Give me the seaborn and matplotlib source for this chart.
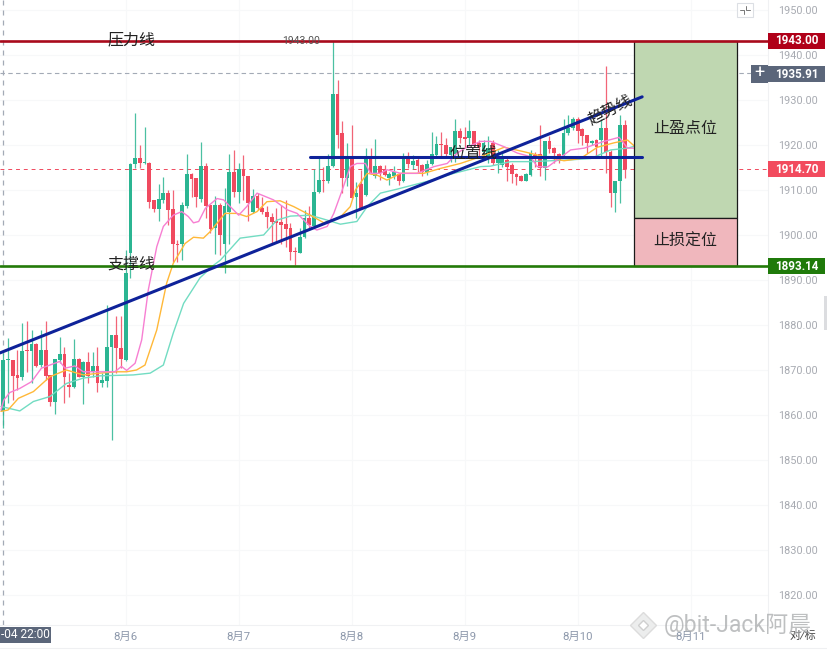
import matplotlib
matplotlib.use("Agg")
import matplotlib.pyplot as plt
from matplotlib.patches import Rectangle
from matplotlib.lines import Line2D
import numpy as np
import pandas as pd
import seaborn as sns

first_hour = -26
directions = ("GGRRGRGRGR" "RGGRRGRGRG" "RGGGRRGGGR" "GRRGGRRRGG" "RRGRRGRGGR"
              "GRRGRRRRRR" "RRRGGRGGRG" "GRRGRGRGRG" "RRGGRGRGRR" "GGGRRGGRRG"
              "RRGGRGGRRR" "RGGRRGRRRG" "GGRRRGRGRR" "GGR")
highs = [1873.7,1877.0,1872.2,1874.5,1880.4,1880.8,1878.9,1875.9,1878.9,1880.8,
         1868.9,1872.4,1877.3,1875.2,1869.3,1876.8,1872.6,1871.9,1873.9,1873.9,
         1875.2,1869.3,1884.5,1877.8,1881.9,1882.0,1896.7,1916.0,1927.0,1920.0,
         1923.9,1916.3,1907.8,1911.3,1912.8,1910.1,1910.1,1898.9,1907.4,1917.9,
         1913.7,1912.6,1920.7,1916.1,1906.7,1908.7,1907.0,1910.4,1918.1,1918.9,
         1916.1,1917.8,1913.1,1910.2,1909.3,1908.5,1906.4,1904.8,1905.9,1906.7,
         1907.8,1902.7,1897.4,1901.5,1905.6,1906.4,1914.6,1917.0,1915.2,1918.1,
         1943.0,1934.4,1925.4,1920.4,1924.4,1911.8,1914.4,1919.3,1919.3,1921.3,
         1915.6,1915.6,1914.1,1915.3,1913.7,1918.2,1918.5,1917.8,1917.4,1915.8,
         1916.7,1922.8,1921.9,1922.8,1921.5,1919.6,1925.7,1923.7,1924.1,1925.6,
         1923.0,1921.1,1921.1,1921.9,1921.1,1918.9,1918.2,1917.4,1915.9,1913.7,
         1913.3,1913.7,1918.9,1918.5,1924.5,1920.8,1921.9,1919.5,1918.2,1925.7,
         1926.7,1926.3,1926.2,1923.7,1922.2,1921.1,1921.3,1925.7,1937.6,1918.9,
         1911.9,1926.7,1925.6]
body_tops = [1872.2,1872.4,1872.2,1868.9,1874.3,1874.5,1875.8,1875.8,1874.5,1874.5,
             1868.8,1872.4,1873.6,1873.6,1866.6,1872.4,1872.4,1871.8,1871.8,1870.8,
             1870.8,1867.8,1875.0,1877.8,1877.7,1874.9,1891.6,1915.8,1917.0,1917.0,
             1916.2,1916.1,1907.8,1907.9,1909.3,1909.3,1905.7,1898.1,1906.7,1913.5,
             1913.5,1912.6,1915.3,1915.3,1906.6,1906.6,1906.7,1906.4,1913.9,1913.9,
             1914.6,1914.6,1913.0,1908.7,1908.7,1905.9,1905.2,1904.1,1903.1,1902.8,
             1902.4,1901.6,1896.5,1899.6,1903.7,1903.7,1909.6,1912.2,1912.2,1915.3,
             1931.3,1931.3,1922.6,1917.0,1916.8,1909.3,1911.3,1917.4,1917.0,1915.3,
             1915.3,1914.4,1913.6,1913.9,1913.6,1917.0,1917.3,1916.5,1916.7,1915.6,
             1915.8,1917.9,1920.2,1920.2,1920.0,1919.6,1923.0,1923.0,1921.7,1923.0,
             1923.0,1920.4,1920.4,1919.3,1920.4,1917.4,1917.4,1916.7,1915.6,1913.6,
             1913.0,1913.5,1918.2,1917.8,1917.9,1920.8,1920.8,1919.3,1918.0,1922.6,
             1923.7,1925.7,1925.7,1923.5,1922.2,1920.8,1921.1,1923.7,1923.7,1918.5,
             1911.9,1924.5,1924.5]
body_bottoms = [1860.8,1872.2,1868.7,1868.3,1868.4,1874.2,1874.2,1870.9,1871.0,1868.7,
                1862.8,1862.8,1872.2,1868.5,1866.2,1866.2,1868.5,1868.5,1868.7,1869.6,
                1867.0,1867.0,1867.6,1875.0,1874.8,1872.5,1872.3,1896.0,1915.8,1915.9,
                1915.9,1907.4,1905.8,1905.8,1907.8,1905.6,1897.9,1897.7,1897.9,1906.4,
                1912.4,1908.4,1908.1,1906.4,1901.3,1901.5,1900.0,1897.9,1905.0,1909.6,
                1909.6,1913.0,1907.0,1905.0,1905.9,1905.0,1903.9,1902.9,1902.6,1902.2,
                1901.4,1896.3,1896.3,1896.1,1899.5,1902.2,1901.9,1909.6,1911.9,1911.9,
                1915.3,1922.2,1912.6,1912.6,1908.3,1908.5,1906.0,1908.9,1913.7,1913.0,
                1913.7,1913.3,1912.6,1913.0,1911.9,1911.9,1915.8,1915.6,1915.3,1914.1,
                1913.9,1915.7,1917.8,1919.9,1918.1,1917.8,1918.0,1921.5,1921.3,1921.5,
                1920.0,1919.5,1918.5,1917.4,1915.9,1915.9,1915.6,1915.2,1913.6,1912.8,
                1912.1,1912.1,1913.3,1917.4,1914.8,1914.8,1919.0,1918.2,1916.7,1917.8,
                1922.6,1923.7,1923.2,1922.0,1920.5,1920.5,1919.6,1921.1,1918.5,1909.3,
                1909.3,1911.9,1914.6]
lows = [1857.0,1862.6,1863.3,1865.6,1867.8,1869.6,1867.0,1870.7,1870.7,1867.8,
        1861.9,1860.2,1871.5,1862.6,1863.9,1865.9,1868.4,1862.5,1867.0,1868.5,
        1865.0,1866.3,1866.3,1854.5,1869.3,1870.4,1872.1,1890.4,1914.8,1914.8,
        1915.8,1905.9,1905.2,1903.0,1907.0,1902.2,1894.1,1894.1,1894.4,1906.1,
        1908.5,1906.3,1907.4,1903.7,1900.4,1895.8,1895.6,1891.5,1898.0,1908.5,
        1907.2,1907.8,1903.0,1904.8,1905.6,1904.7,1901.5,1898.1,1898.5,1898.1,
        1897.4,1894.4,1893.3,1895.9,1899.3,1901.5,1901.7,1909.4,1909.6,1911.6,
        1915.0,1919.3,1909.3,1910.8,1908.1,1903.7,1905.8,1908.7,1913.6,1912.6,
        1912.2,1913.0,1911.1,1912.4,1911.1,1911.7,1914.8,1914.6,1914.1,1913.0,
        1913.3,1915.6,1917.6,1917.0,1917.4,1916.3,1916.3,1920.4,1919.3,1920.0,
        1919.6,1917.4,1916.7,1915.9,1915.6,1913.7,1915.2,1911.9,1911.5,1911.1,
        1911.9,1911.9,1913.0,1915.2,1913.0,1912.2,1918.2,1915.9,1915.9,1917.4,
        1922.2,1923.3,1920.5,1920.0,1918.2,1920.0,1917.4,1917.0,1913.7,1906.3,
        1905.0,1907.0,1912.6]

pink_hours = [-26.5,-25.9,-24.6,-22.5,-20,-17.9,-16.1,-14,-12.9,-10.8,-9,-6.2,-2.3,-0.9,0.2,2,3.4,4.8,
              6.6,8,10.1,11.9,13.3,14.4,15.5,16.9,19.4,20.8,24,25.7,27.9,31.4,34.3,36.4,39.2,40.6,42.8,44.2,46,
              47.7,49.1,50.9,52,54.1,55.5,58.4,61.9,65.5,68.3,70.4,72.6,75.4,77.5,80.4,83.2,86,87.4,89.6,91.7,
              94.5,97.4,101.6,104.8,106.6,108.7]
pink_values = [1861.1,1863.3,1865,1865.9,1867.4,1870.4,1871.1,1871.9,1870.4,1870.9,1869.6,1869.6,1869.6,1870.8,1869.9,1871.5,1876.7,1887.8,
               1897.4,1901.9,1904.4,1905.2,1904.1,1902.7,1903,1905.9,1908.1,1907.8,1904.4,1906.3,1909.3,1907.8,1905.6,1904.8,1901.9,1901.1,1901.9,1904.8,1910,
               1915.2,1915.9,1915.9,1913.7,1913.7,1914.5,1913.7,1913.7,1915.2,1915.9,1918.2,1919.6,1920.8,1920.8,1919.6,1918.2,1917.4,1915.2,1915.1,1916.7,
               1918.9,1919.3,1920.8,1921.7,1919.3,1919.3]
orange_hours = [-26.5,-25,-22.8,-19.6,-16.1,-12.6,-9,-5.5,-1.9,0.2,2.3,4.1,6.6,8.7,10.1,12.6,14.4,16.5,17.9,21.1,23.6,25.7,27.9,
                30,32.8,35.7,39.2,42.1,45.6,47.7,48.8,51.3,53.4,55.5,58.4,63.3,66.9,71.1,75.4,80.4,84.6,88.9,93.1,96.6,100.2,103.8,
                106.6,108,109.5]
orange_values = [1860.8,1861.1,1863.7,1865.2,1868.5,1870,1868.9,1869.3,1869.6,1869.6,1870,1871.1,1878.9,1889.3,1893.7,1898.1,1899.5,1899.3,1900.7,1904.8,1904.8,1904.1,1905.2,
                 1907.4,1907.6,1906.3,1904.4,1902.7,1904,1906.3,1910,1913.7,1913.3,1912.2,1913.7,1913.7,1914.8,1915.9,1917.4,1919.5,1918.5,1917.4,1916.5,1917,1919.5,1920.5,
                 1921.1,1919.8,1919.3]
teal_hours = [-26.5,-22.5,-19.6,-16.1,-12.6,-9,-5.5,1.6,5.2,8,10.1,12.3,15.8,18.7,20.1,24.3,29.3,32.1,35,39.2,42.8,45.6,
              49.1,51.3,54.1,57.7,64,69.7,75.4,77.5,81.8,86,90.3,94.5,98.8,103,106.6,109.8,113,114]
teal_values = [1861.9,1860.9,1863,1864.1,1867,1868.2,1868.7,1868.9,1869.3,1871.1,1878.2,1884.8,1890.5,1893.3,1894.4,1899.3,1900,1903.3,1904.2,1904.4,1903.3,1902.4,
               1903,1906.3,1909.3,1910.2,1911.9,1913.7,1915.2,1915.3,1916.3,1916.3,1916.5,1916.7,1917,1918.9,1919.3,1920.2,1919.3,1919.1]

pressure_level, support_level, last_price, cursor_price = 1943.00, 1893.14, 1914.70, 1935.91
trend_hours, trend_prices = [-26.7, 109.7], [1873.8, 1930.7]
position_hours, position_prices = [39.1, 109.7], [1917.3, 1917.3]
box_hours = [108.0, 129.8]
target_level, stop_split, stop_level = 1943.0, 1903.8, 1893.14
y_ticks = list(range(1820, 1960, 10))
day_hours = [0, 24, 48, 72, 96, 120]
day_labels = ["8月6", "8月7", "8月8", "8月9", "8月10", "8月11"]

sns.set_theme(style="white")
plt.rcParams["font.family"] = ["Roboto", "Noto Sans CJK SC", "DejaVu Sans"]

W, H = 828, 653
fig = plt.figure(figsize=(W / 100, H / 100), dpi=100, facecolor="white")
ax = fig.add_axes([0, 1 - 625 / H, 768 / W, 625 / H])
ax.set_xlim(-26.7, 136.43)
ax.set_ylim(1813.33, 1952.22)
ax.set_facecolor("white")

GREEN, RED = "#2bb592", "#f04a5f"
ax.set_yticks(y_ticks)
ax.set_xticks(day_hours)
ax.grid(True, color="#f7f8f9", lw=0.8)
ax.set_axisbelow(True)
ax.yaxis.tick_right()
ax.set_yticklabels([f"{v:.2f}" for v in y_ticks], fontsize=7.8, color="#a8abb2")
ax.set_xticklabels(day_labels, fontsize=8.2, color="#8d98ab")
ax.tick_params(axis="both", length=0)
ax.tick_params(axis="y", pad=7)
ax.tick_params(axis="x", pad=5)
for name in ["top", "left"]:
    ax.spines[name].set_visible(False)
for name in ["right", "bottom"]:
    ax.spines[name].set_color("#f0f1f3")
    ax.spines[name].set_linewidth(0.8)

hours = np.arange(first_hour, first_hour + len(highs))
colors = [GREEN if d == "G" else RED for d in directions]
tops = np.array(body_tops)
bottoms = np.array(body_bottoms)
ax.vlines(hours, lows, highs, colors=colors, lw=0.9, zorder=2, alpha=0.85)
ax.bar(hours, np.maximum(tops - bottoms, 0.25), bottom=bottoms, width=0.8,
       color=colors, linewidth=0, zorder=3)

sns.lineplot(x=teal_hours, y=teal_values, ax=ax, color="#72dcc2", lw=1.0, sort=False, zorder=4)
sns.lineplot(x=orange_hours, y=orange_values, ax=ax, color="#ffb838", lw=1.0, sort=False, zorder=4)
sns.lineplot(x=pink_hours, y=pink_values, ax=ax, color="#f77fd2", lw=1.0, sort=False, zorder=4)

ax.axhline(cursor_price, color="#a3aab6", lw=0.8, ls=(0, (4, 3)), zorder=1)
ax.axhline(last_price, color=RED, lw=0.7, ls=(0, (4, 4)), zorder=1)
ax.axvline(first_hour, color="#a3aab6", lw=0.9, ls=(0, (4, 4)), zorder=1)

ax.add_patch(Rectangle((box_hours[0], stop_split), box_hours[1] - box_hours[0], target_level - stop_split,
                       facecolor="#bfd7b1", edgecolor="#1a1a1a", lw=0.9, zorder=5))
ax.add_patch(Rectangle((box_hours[0], stop_level), box_hours[1] - box_hours[0], stop_split - stop_level,
                       facecolor="#f0b7bd", edgecolor="#1a1a1a", lw=0.9, zorder=5))

ax.axhline(pressure_level, color="#a90a1c", lw=1.9, zorder=6)
ax.axhline(support_level, color="#237a08", lw=1.9, zorder=6)
sns.lineplot(x=trend_hours, y=trend_prices, ax=ax, color="#0e2299", lw=2.2, zorder=6)
sns.lineplot(x=position_hours, y=position_prices, ax=ax, color="#0e2299", lw=2.2, zorder=6)

label_kw = dict(fontsize=11.5, color="#222222", ha="center", va="center", zorder=8)
ax.text(1.3, 1943.4, "压力线", **label_kw)
ax.text(1.3, 1893.6, "支撑线", **label_kw)
ax.text(73.8, 1918.2, "位置线", **label_kw)
ax.text(103.0, 1927.8, "趋势线", rotation=27, rotation_mode="default", **label_kw)
ax.text(118.9, 1923.6, "止盈点位", **label_kw)
ax.text(118.9, 1898.7, "止损定位", **label_kw)
ax.text(41.3, 1943.2, "1943.00", fontsize=7.5, color="#555555", ha="right", va="center", zorder=8)

def px_rect(x0, y0, x1, y1, **kw):
    fig.add_artist(Rectangle((x0 / W, 1 - y1 / H), (x1 - x0) / W, (y1 - y0) / H,
                             transform=fig.transFigure, **kw))

def px_text(x, y, s, **kw):
    fig.text(x / W, 1 - y / H, s, **kw)

def px_line(xs, ys, **kw):
    fig.add_artist(Line2D([x / W for x in xs], [1 - y / H for y in ys], transform=fig.transFigure, **kw))

tag_kw = dict(fontsize=8.4, color="white", ha="center", va="center", fontweight="bold")
for y, value, face in [(41, pressure_level, "#b00019"), (74, cursor_price, "#5b667a"),
                       (169, last_price, "#f24b5e"), (266, support_level, "#1f7a0a")]:
    px_rect(768, y - 8, 825, y + 8, facecolor=face, edgecolor="none", zorder=10)
    px_text(796.5, y, f"{value:.2f}", zorder=11, **tag_kw)
px_rect(751, 65, 768, 83, facecolor="#5b667a", edgecolor="none", zorder=10)
px_text(759.5, 73.5, "+", fontsize=13, color="white", ha="center", va="center", zorder=11)

px_rect(0, 627, 51, 643, facecolor="#5b667a", edgecolor="none", zorder=10)
px_text(1, 635, "-04 22:00", fontsize=8.6, color="white", ha="left", va="center", zorder=11)

px_rect(737, 3, 753, 17, facecolor="white", edgecolor="#dcdfe4", lw=0.8, zorder=10)
px_line([740, 744, 744], [10, 10, 14], color="#777777", lw=0.7, zorder=11)
px_line([746, 746, 750], [6, 10, 10], color="#777777", lw=0.7, zorder=11)
px_rect(824, 296, 828, 330, facecolor="#dcdde0", edgecolor="none", zorder=10)

px_line([0, W], [648, 648], color="#eff0f2", lw=0.8)
px_line([643], [625], marker="D", ms=13, mfc="#eceded", mec="#dcdcdc", zorder=12)
px_line([643], [625], marker="D", ms=5, mfc="white", mec="#cfcfcf", zorder=13)
px_text(664, 625, "@bit-Jack阿晨", fontsize=16.6, color="#a9abad", alpha=0.75,
        ha="left", va="center", zorder=12)
px_text(790, 636, "对/标", fontsize=8, color="#444444", style="italic", ha="left", va="center", zorder=11)

fig.savefig("out.png", dpi=100)
